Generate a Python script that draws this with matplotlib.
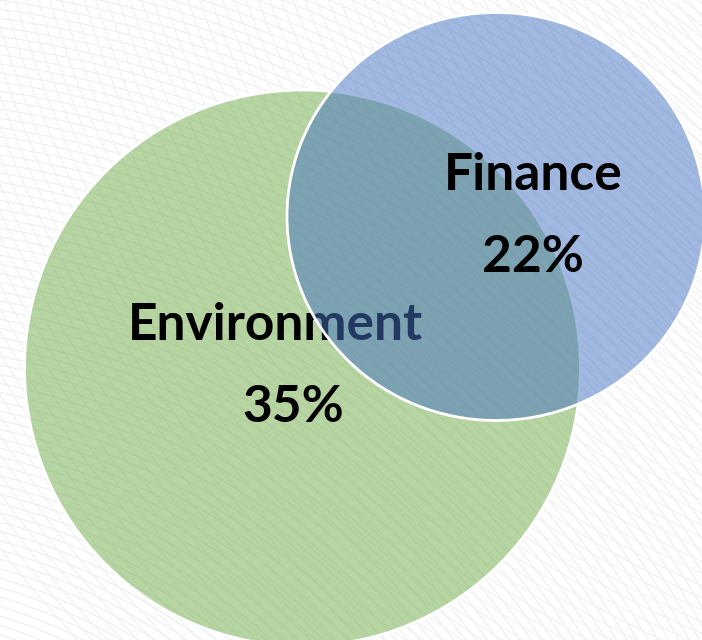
import numpy as np
import matplotlib.pyplot as plt
from matplotlib.patches import Ellipse, Circle

# venn data
labels = ['Environment', 'Finance']
shares = ['35%', '22%']
colors = ['#70AD47', '#4472C4']

fig = plt.figure(figsize=(7.02, 6.40), dpi=100)
ax = fig.add_axes([0, 0, 1, 1])
ax.set_xlim(0, 702)
ax.set_ylim(640, 0)
ax.set_aspect('equal')
ax.axis('off')

# faint wavy background texture
for r in np.arange(300, 1400, 9):
    ax.add_patch(Circle((-150, 1100), r, fill=False, ec='#eeeeee', lw=0.8, zorder=0))
for r in np.arange(300, 1400, 11):
    ax.add_patch(Circle((1100, -300), r, fill=False, ec='#f1f1f1', lw=0.8, zorder=0))

# green set
ax.add_patch(Ellipse((302.5, 368), 556, 556, fc=colors[0], alpha=0.5, ec='none', zorder=1))
ax.add_patch(Ellipse((302.5, 368), 556, 556, fill=False, ec='white', lw=2, zorder=2))

fnt = dict(family=['Lato', 'DejaVu Sans'], fontweight='bold', color='black',
           ha='center', va='center')
ax.text(275, 325, labels[0], fontsize=37, zorder=3, **fnt)
ax.text(293, 408, shares[0], fontsize=37, zorder=3, **fnt)

# blue set on top
ax.add_patch(Ellipse((496, 216.5), 418, 408, fc=colors[1], alpha=0.5, ec='none', zorder=4))
ax.add_patch(Ellipse((496, 216.5), 418, 408, fill=False, ec='white', lw=2, zorder=5))

ax.text(533, 175, labels[1], fontsize=37, zorder=6, **fnt)
ax.text(533, 258, shares[1], fontsize=37, zorder=6, **fnt)

fig.savefig('out.png', dpi=100, facecolor='white')
